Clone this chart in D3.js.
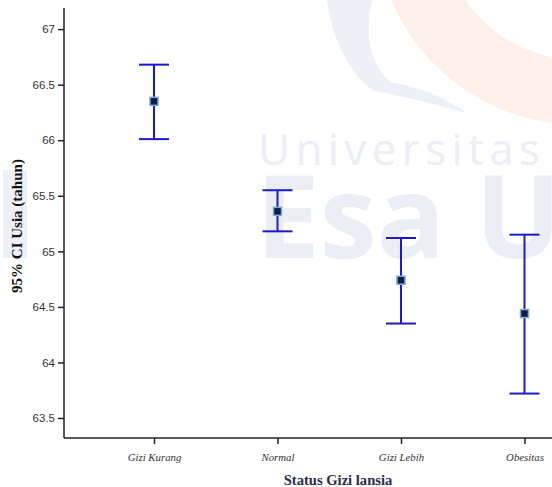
<!DOCTYPE html>
<html>
<head>
<meta charset="utf-8">
<script src="https://cdn.jsdelivr.net/npm/d3@7"></script>
<style>
  body { margin: 0; background: #fff; }
  svg { display: block; }
</style>
</head>
<body>
<svg id="chart" width="552" height="487"></svg>
<script>
// Mean age with 95% confidence interval by nutritional status
const categories = ["Gizi Kurang", "Normal", "Gizi Lebih", "Obesitas"];
const means  = [66.35, 65.36, 64.74, 64.44];
const lowers = [66.01, 65.18, 64.35, 63.72];
const uppers = [66.68, 65.55, 65.12, 65.15];
const yTicks = [63.5, 64, 64.5, 65, 65.5, 66, 66.5, 67];
const yTickLabels = ["63.5", "64", "64.5", "65", "65.5", "66", "66.5", "67"];

const svg = d3.select("#chart");
const plotLeft = 64, plotTop = 8, plotBottom = 438;

// faint background emblem
const bg = svg.append("g");
bg.append("path")
  .attr("d", d3.arc()({innerRadius: 140, outerRadius: 205, startAngle: 0, endAngle: 2 * Math.PI}))
  .attr("transform", "translate(580,-80)")
  .attr("fill", "#fdf0e9");
bg.append("path")
  .attr("d", "M327,0 Q335,60 372,90 Q420,100 467,113 Q430,88 390,82 Q360,55 372,0 Z")
  .attr("fill", "#edf0f6");
bg.append("rect")
  .attr("x", 3).attr("y", 170).attr("width", 24).attr("height", 88)
  .attr("fill", "#edf0f6");
bg.append("text")
  .attr("x", 258).attr("y", 165)
  .attr("font-family", "'Open Sans', sans-serif")
  .attr("font-size", 44)
  .attr("textLength", 282)
  .attr("lengthAdjust", "spacing")
  .attr("fill", "#ebeef5")
  .text("Universitas");
bg.append("text")
  .attr("x", 256).attr("y", 258)
  .attr("font-family", "'Open Sans', sans-serif")
  .attr("font-weight", "bold")
  .attr("font-size", 114)
  .attr("fill", "#ebeef5")
  .text("Esa Unggul");

const y = d3.scaleLinear().domain([63.32, 67.19]).range([plotBottom, plotTop]);
const x = d3.scalePoint().domain(categories).range([154, 524.5]);

// axes
const yAxis = d3.axisLeft(y).tickValues(yTicks)
  .tickFormat((d, i) => yTickLabels[i]).tickSize(6).tickPadding(3);
const gy = svg.append("g").attr("transform", `translate(${plotLeft},0)`).call(yAxis);
gy.select(".domain").attr("stroke", "#222").attr("stroke-width", 1.5).attr("d", `M-0,${plotTop}V${plotBottom}`);
gy.selectAll(".tick line").attr("stroke", "#222").attr("stroke-width", 1.5);
gy.selectAll(".tick text")
  .attr("font-family", "'Liberation Sans', Arial, sans-serif")
  .attr("font-size", 11.5).attr("fill", "#333");

const xAxis = d3.axisBottom(x).tickSize(6).tickPadding(9);
const gx = svg.append("g").attr("transform", `translate(0,${plotBottom})`).call(xAxis);
gx.select(".domain").attr("stroke", "#222").attr("stroke-width", 1.5).attr("d", `M${plotLeft},0H552`);
gx.selectAll(".tick line").attr("stroke", "#222").attr("stroke-width", 1.5);
gx.selectAll(".tick text")
  .attr("font-family", "'Liberation Serif', 'Times New Roman', serif")
  .attr("font-style", "italic")
  .attr("font-size", 10.8).attr("fill", "#333");

// axis titles
svg.append("text")
  .attr("x", 338).attr("y", 485)
  .attr("text-anchor", "middle")
  .attr("font-family", "'Liberation Serif', 'Times New Roman', serif")
  .attr("font-weight", "bold").attr("font-size", 14.6)
  .attr("fill", "#2b2b4d")
  .text("Status Gizi lansia");
svg.append("text")
  .attr("transform", "translate(22,226) rotate(-90)")
  .attr("text-anchor", "middle")
  .attr("font-family", "'Liberation Serif', 'Times New Roman', serif")
  .attr("font-weight", "bold").attr("font-size", 15)
  .attr("fill", "#111")
  .text("95% CI Usia (tahun)");

// error bars
const data = categories.map((c, i) => ({c, m: means[i], lo: lowers[i], hi: uppers[i]}));
const g = svg.append("g");
const cap = 15;
const bars = g.selectAll("g.bar").data(data).join("g").attr("class", "bar");
bars.append("line")
  .attr("x1", d => x(d.c)).attr("x2", d => x(d.c))
  .attr("y1", d => y(d.hi)).attr("y2", d => y(d.lo))
  .attr("stroke", "#1a1ad0").attr("stroke-width", 2);
bars.append("line")
  .attr("x1", d => x(d.c) - cap).attr("x2", d => x(d.c) + cap)
  .attr("y1", d => y(d.hi)).attr("y2", d => y(d.hi))
  .attr("stroke", "#1a1ad0").attr("stroke-width", 2);
bars.append("line")
  .attr("x1", d => x(d.c) - cap).attr("x2", d => x(d.c) + cap)
  .attr("y1", d => y(d.lo)).attr("y2", d => y(d.lo))
  .attr("stroke", "#1a1ad0").attr("stroke-width", 2);
bars.append("rect")
  .attr("x", d => x(d.c) - 4).attr("y", d => y(d.m) - 4)
  .attr("width", 8).attr("height", 8)
  .attr("fill", "#141a4a")
  .attr("stroke", "#6fb3cf").attr("stroke-width", 1.5);
</script>
</body>
</html>
